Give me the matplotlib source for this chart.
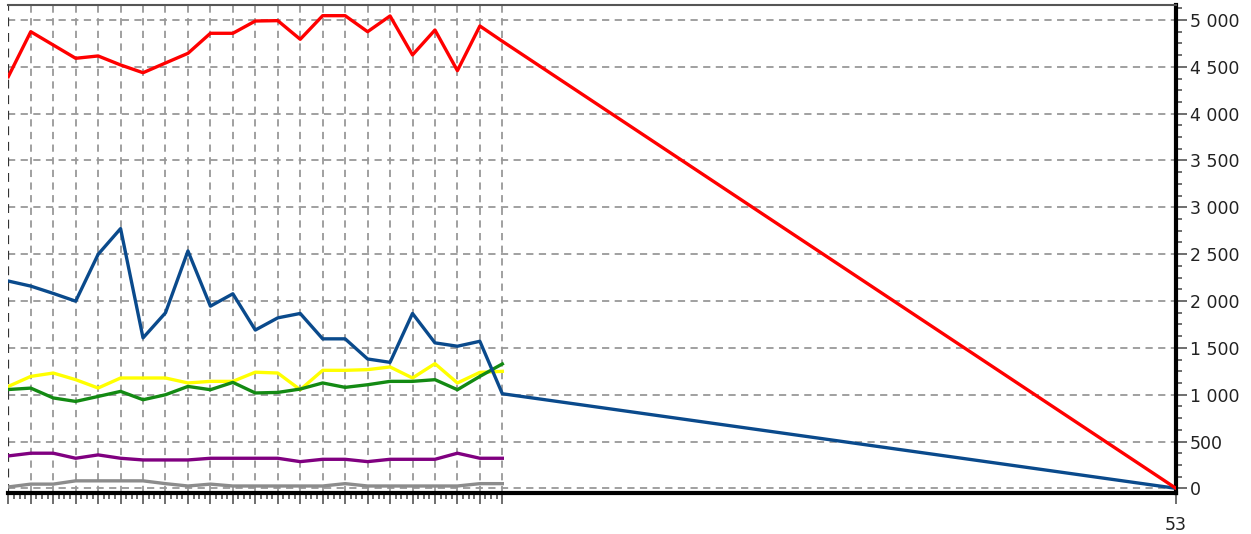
import matplotlib
matplotlib.use("Agg")
import matplotlib.pyplot as plt
from matplotlib.ticker import FixedLocator, FuncFormatter, MultipleLocator
import numpy as np

weeks = list(range(1, 24))
weeks_ext = weeks + [53]

red = [4395, 4875, 4733, 4591, 4616, 4520, 4437, 4541, 4644, 4858, 4858, 4989,
       4993, 4794, 5046, 5046, 4875, 5043, 4627, 4893, 4459, 4936, 4773, 0]
blue = [2213, 2159, 2081, 1998, 2498, 2773, 1606, 1874, 2534, 1945, 2077, 1690,
        1820, 1867, 1596, 1596, 1381, 1345, 1867, 1553, 1517, 1570, 1010, 0]
yellow = [1088, 1195, 1231, 1160, 1071, 1178, 1178, 1178, 1125, 1142, 1142, 1240,
          1231, 1053, 1260, 1260, 1267, 1296, 1178, 1331, 1125, 1238, 1249]
green = [1055, 1070, 965, 928, 981, 1035, 946, 999, 1088, 1053, 1131, 1018,
         1024, 1060, 1125, 1078, 1106, 1142, 1142, 1160, 1053, 1195, 1328]
purple = [346, 375, 375, 321, 357, 321, 303, 303, 303, 321, 321, 321,
          321, 285, 310, 310, 285, 310, 310, 310, 375, 321, 321]
gray = [15, 45, 45, 80, 80, 80, 80, 50, 25, 45, 25, 25,
        25, 25, 25, 50, 25, 25, 25, 25, 25, 50, 50]

fig = plt.figure(figsize=(12.51, 5.34), dpi=100)
ax = fig.add_axes([8.3 / 1251, 1 - 493.3 / 534, (1176 - 8.3) / 1251, (493.3 - 5) / 534])

lw = 2.4
ax.plot(weeks, gray, color="#8c8c8c", lw=lw, zorder=3)
ax.plot(weeks, purple, color="#800080", lw=lw, zorder=3)
ax.plot(weeks, yellow, color="#ffff00", lw=lw, zorder=3)
ax.plot(weeks, green, color="#138a13", lw=lw, zorder=3)
ax.plot(weeks_ext, blue, color="#0a4a8c", lw=lw, zorder=4)
ax.plot(weeks_ext, red, color="#ff0000", lw=lw, zorder=5)

ax.set_xlim(1, 53)
ax.set_ylim(-53, 5160)

# x ticks: one per week up to 23, then 53
ax.xaxis.set_major_locator(FixedLocator(weeks_ext))
ax.xaxis.set_major_formatter(FuncFormatter(lambda v, p: "53" if v == 53 else ""))
minor_x = [w + f for w in range(1, 23) for f in (0.25, 0.5, 0.75)]
ax.xaxis.set_minor_locator(FixedLocator(minor_x))

ax.yaxis.tick_right()
ax.yaxis.set_major_locator(MultipleLocator(500))
ax.yaxis.set_minor_locator(MultipleLocator(125))
ax.yaxis.set_major_formatter(FuncFormatter(lambda v, p: f"{v:,.0f}".replace(",", " ")))

ax.tick_params(axis="both", which="major", length=8, width=1.2, color="#555555",
               labelsize=12.5, labelcolor="#222222", pad=2)
ax.tick_params(axis="x", which="major", pad=8)
ax.tick_params(axis="both", which="minor", length=4, width=1.2, color="#555555")

# grid
grid_kw = dict(color="#999999", lw=1.3, ls=(0, (4, 3)), zorder=1)
for v in range(0, 5001, 500):
    ax.axhline(v, **grid_kw)
for w in weeks[1:]:
    ax.axvline(w, **grid_kw)
ax.axvline(1, color="#333333", lw=1.6, ls=(0, (4, 3)), zorder=2)

ax.spines["left"].set_visible(False)
ax.spines["top"].set_color("#555555")
ax.spines["top"].set_linewidth(1.5)
ax.spines["right"].set_linewidth(3)
ax.spines["bottom"].set_linewidth(3)
ax.spines["right"].set_color("black")
ax.spines["bottom"].set_color("black")

fig.savefig("out.png", dpi=100)
